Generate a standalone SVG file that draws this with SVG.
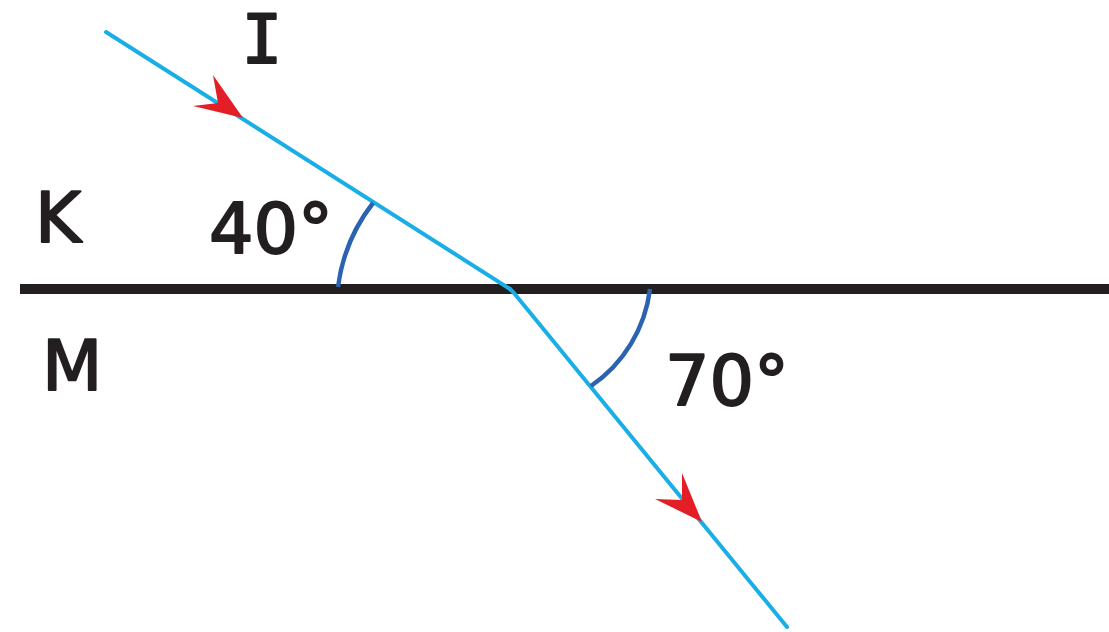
<svg xmlns="http://www.w3.org/2000/svg" width="1109" height="632" viewBox="0 0 1109 632">
<style>
.lbl{font-family:"DejaVu Sans","Noto Sans",sans-serif;font-size:70px;fill:#231f20;stroke:#231f20;stroke-width:2px;stroke-linejoin:round}
.ray{stroke:#1aaee6;stroke-width:4;fill:none;stroke-linecap:round}
.arc{stroke:#2b63b0;stroke-width:4.5;fill:none}
.head{fill:#e31e26}
</style>
<rect width="1109" height="632" fill="#ffffff"/>
<g id="surface">
<line x1="20" y1="289" x2="1109" y2="289" stroke="#231f20" stroke-width="10"/>
</g>
<g id="connectors">
<path class="ray" d="M106,32 L510,289"/>
<path class="ray" d="M510,289 L514,293 L787,627"/>
<path class="head" d="M243,118 L213,75 L218,103 L193,106 Z"/>
<path class="head" d="M702,522 L682,473 L682,500 L655,499 Z"/>
<path class="arc" d="M373,203 A172,172 0 0 0 338,287"/>
<path class="arc" d="M650,289 A138,138 0 0 1 591,386"/>
</g>
<g id="label-I"><text x="262" y="63" text-anchor="middle" class="lbl" style="font-family:'DejaVu Sans Mono',monospace;font-size:68px">I</text></g>
<g id="label-K"><text x="35" y="242" class="lbl">K</text></g>
<g id="label-M"><text x="42" y="390" class="lbl">M</text></g>
<g id="label-40"><text x="209" y="253" class="lbl">40°</text></g>
<g id="label-70"><text x="665" y="405" class="lbl">70°</text></g>
</svg>
